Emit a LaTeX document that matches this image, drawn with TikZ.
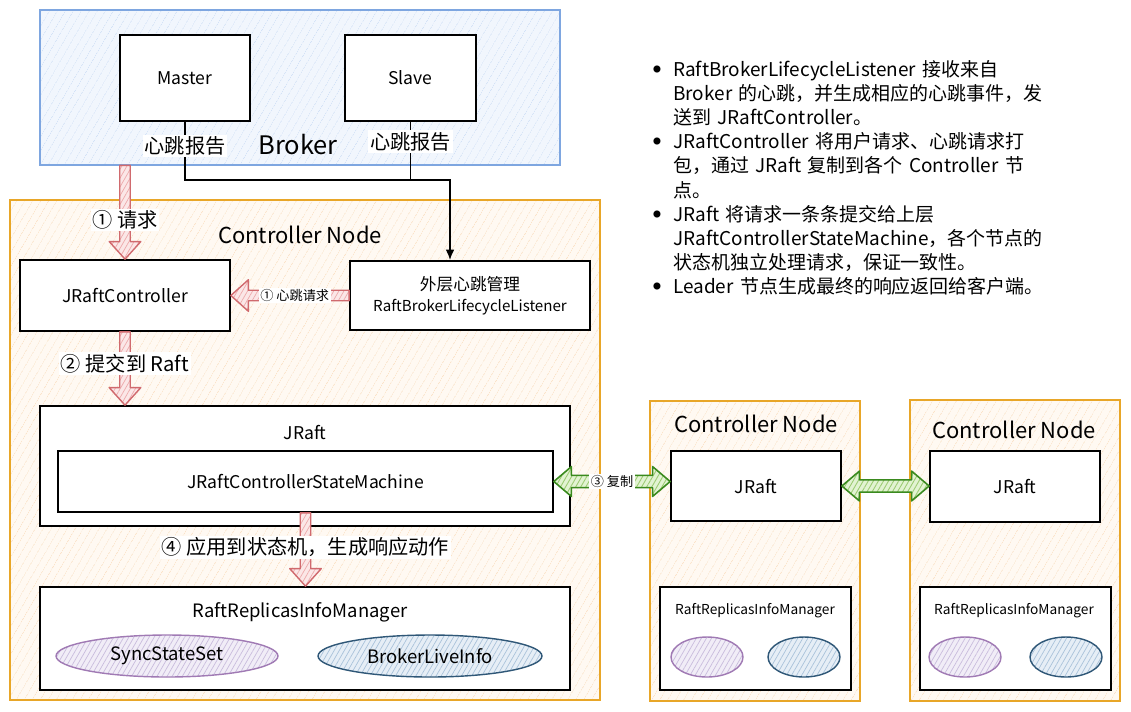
\documentclass[tikz,border=0pt]{standalone}
\usepackage{fontspec}
\setmainfont{Noto Sans CJK SC}
\usetikzlibrary{calc,patterns.meta,shapes.geometric,arrows.meta}

\definecolor{brokerline}{HTML}{7EA6E0}
\definecolor{brokerfill}{HTML}{F1F6FD}
\definecolor{brokerhatch}{HTML}{D3E2F7}
\definecolor{ctrlline}{HTML}{E8A628}
\definecolor{ctrlfill}{HTML}{FFF9F2}
\definecolor{ctrlhatch}{HTML}{FBE3C8}
\definecolor{redline}{HTML}{D06A6E}
\definecolor{redfill}{HTML}{FBE7E7}
\definecolor{redhatch}{HTML}{EDA9AB}
\definecolor{greenline}{HTML}{3A8A1E}
\definecolor{greenfill}{HTML}{E2F3D2}
\definecolor{greenhatch}{HTML}{9CCB72}
\definecolor{purpleline}{HTML}{A07AB4}
\definecolor{purplefill}{HTML}{F1EDF7}
\definecolor{purplehatch}{HTML}{C9BCDD}
\definecolor{navyline}{HTML}{2F5777}
\definecolor{navyfill}{HTML}{E6EEF6}
\definecolor{navyhatch}{HTML}{A9C2DA}

\tikzset{
  box/.style={draw=black, line width=1pt, fill=white, inner sep=2pt, font=\fontsize{10}{12}\selectfont},
  brokerbox/.style={draw=brokerline, line width=0.8pt, preaction={fill=brokerfill},
    pattern={Lines[angle=60,distance=4pt,line width=0.4pt]}, pattern color=brokerhatch},
  ctrlbox/.style={draw=ctrlline, line width=0.9pt, preaction={fill=ctrlfill},
    pattern={Lines[angle=60,distance=4pt,line width=0.4pt]}, pattern color=ctrlhatch},
  title/.style={font=\fontsize{12.5}{14}\selectfont},
  lbl/.style={fill=white, inner sep=1pt, font=\fontsize{11.5}{13}\selectfont},
  smalllbl/.style={fill=white, inner sep=1pt, font=\fontsize{7.5}{9}\selectfont},
  redarrow/.style={draw=redline, line width=0.8pt, line join=round, preaction={fill=redfill},
    pattern={Lines[angle=60,distance=2.5pt,line width=0.4pt]}, pattern color=redhatch},
  greenarrow/.style={draw=greenline, line width=0.9pt, line join=round, preaction={fill=greenfill},
    pattern={Lines[angle=60,distance=2.5pt,line width=0.5pt]}, pattern color=greenhatch},
  syncell/.style={ellipse, draw=purpleline, line width=0.8pt, inner sep=0pt, preaction={fill=purplefill},
    pattern={Lines[angle=60,distance=2.5pt,line width=0.4pt]}, pattern color=purplehatch},
  liveell/.style={ellipse, draw=navyline, line width=0.8pt, inner sep=0pt, preaction={fill=navyfill},
    pattern={Lines[angle=60,distance=2.5pt,line width=0.4pt]}, pattern color=navyhatch},
  conn/.style={draw=black, line width=1pt, -{Latex[length=6pt,width=5pt]}}
}

% hollow block arrow, one head / two heads
\def\fatarrow[#1](#2)(#3){%
  \coordinate (fa-s) at (#2);
  \coordinate (fa-e) at (#3);
  \coordinate (fa-h) at ($(fa-e)!10pt!(fa-s)$);
  \draw[#1] ($(fa-s)!3pt!90:(fa-e)$) -- ($(fa-h)!3pt!-90:(fa-s)$) -- ($(fa-h)!9pt!-90:(fa-s)$)
    -- (fa-e) -- ($(fa-h)!9pt!90:(fa-s)$) -- ($(fa-h)!3pt!90:(fa-s)$) -- ($(fa-s)!3pt!-90:(fa-e)$) -- cycle;}
\def\fatdarrow[#1](#2)(#3){%
  \coordinate (fa-s) at (#2);
  \coordinate (fa-e) at (#3);
  \coordinate (fa-hs) at ($(fa-s)!10pt!(fa-e)$);
  \coordinate (fa-he) at ($(fa-e)!10pt!(fa-s)$);
  \draw[#1] (fa-s) -- ($(fa-hs)!8.5pt!90:(fa-e)$) -- ($(fa-hs)!3.5pt!90:(fa-e)$)
    -- ($(fa-he)!3.5pt!-90:(fa-s)$) -- ($(fa-he)!8.5pt!-90:(fa-s)$) -- (fa-e)
    -- ($(fa-he)!8.5pt!90:(fa-s)$) -- ($(fa-he)!3.5pt!90:(fa-s)$)
    -- ($(fa-hs)!3.5pt!-90:(fa-e)$) -- ($(fa-hs)!8.5pt!-90:(fa-e)$) -- cycle;}
% bullet of the notes
\def\notedot{\leavevmode\llap{\raisebox{0.22em}{\fontsize{4.5}{5}\selectfont ●}\hspace{7pt}}}

\begin{document}
\begin{tikzpicture}[x=0.02cm, y=-0.02cm]
		%%%%% START %%%%%
		\useasboundingbox[fill=white] (0,0) rectangle (1131,711);
		
		% broker
		\node[brokerbox, minimum width=10.4cm, minimum height=3.1cm] (broker) at (300,87.5) {};
		\node[font=\fontsize{14.5}{16}\selectfont] (brokertitle) at (298,145) {Broker};
		\node[box, minimum width=2.6cm, minimum height=1.72cm] (master) at (185,78) {Master};
		\node[box, minimum width=2.62cm, minimum height=1.72cm] (slave) at (410.5,78) {Slave};
		
		% controller node (leader)
		\node[ctrlbox, minimum width=11.8cm, minimum height=10cm] (cn1) at (305,450) {};
		\node[title] (cn1title) at (300,235) {Controller Node};
		\node[box, minimum width=4.2cm, minimum height=1.42cm] (jctrl) at (125,295.5) {JRaftController};
		\node[box, minimum width=4.8cm, minimum height=1.38cm, align=center,
		  font=\fontsize{8.6}{12}\selectfont] (listener) at (470,295.5) {{\fontsize{9.5}{12}\selectfont 外层心跳管理}\\RaftBrokerLifecycleListener};
		\node[box, minimum width=10.6cm, minimum height=2.4cm] (jraft) at (305,466) {};
		\node[font=\fontsize{10}{12}\selectfont] (jraftlbl) at (305,432) {JRaft};
		\node[box, minimum width=9.9cm, minimum height=1.22cm] (sm) at (305.5,481.5) {JRaftControllerStateMachine};
		\node[box, minimum width=10.6cm, minimum height=2.06cm] (mgr) at (305,638.5) {};
		\node[font=\fontsize{10.5}{12}\selectfont] (mgrlbl) at (300,612) {RaftReplicasInfoManager};
		\node[syncell, minimum width=4.44cm, minimum height=0.84cm, font=\fontsize{10.5}{12}\selectfont] (sync) at (167,656) {SyncStateSet};
		\node[liveell, minimum width=4.48cm, minimum height=0.84cm, font=\fontsize{10.5}{12}\selectfont] (live) at (430,656) {BrokerLiveInfo};
		
		% controller node 2
		\node[ctrlbox, minimum width=4.2cm, minimum height=6cm] (cn2) at (755,551) {};
		\node[title] (cn2title) at (756,424) {Controller Node};
		\node[box, minimum width=3.4cm, minimum height=1.4cm] (jraft2) at (756,486) {JRaft};
		\node[box, minimum width=3.82cm, minimum height=2.06cm] (mgr2) at (755.5,638.5) {};
		\node[font=\fontsize{7.8}{9}\selectfont] (mgr2lbl) at (755,611) {RaftReplicasInfoManager};
		\node[syncell, minimum width=1.44cm, minimum height=0.8cm] (sync2) at (707,657) {};
		\node[liveell, minimum width=1.44cm, minimum height=0.8cm] (live2) at (804,657) {};
		
		% controller node 3
		\node[ctrlbox, minimum width=4.2cm, minimum height=6.02cm] (cn3) at (1015,550.5) {};
		\node[title] (cn3title) at (1014,430) {Controller Node};
		\node[box, minimum width=3.4cm, minimum height=1.42cm] (jraft3) at (1015,486.5) {JRaft};
		\node[box, minimum width=3.82cm, minimum height=2.06cm] (mgr3) at (1015.5,638.5) {};
		\node[font=\fontsize{7.8}{9}\selectfont] (mgr3lbl) at (1014,611) {RaftReplicasInfoManager};
		\node[syncell, minimum width=1.44cm, minimum height=0.8cm] (sync3) at (965,657) {};
		\node[liveell, minimum width=1.44cm, minimum height=0.8cm] (live3) at (1066,657) {};
		
		% heartbeat lines
		\coordinate (join) at (450,180);
		\draw[line width=1pt] (slave.south) |- node[pos=0.17, lbl] (hb2) {心跳报告} (join);
		\draw[conn] (master.south) |- node[pos=0.21, lbl] (hb1) {心跳报告} (join) -- (join |- listener.north);
		
		% block arrows
		\fatarrow[redarrow](jctrl.north |- broker.south)(jctrl.north)
		\node[lbl] (req) at ($(jctrl.north |- broker.south)!0.58!(jctrl.north)$) {① 请求};
		\fatarrow[redarrow](listener.west)(jctrl.east)
		\node[smalllbl] (hbreq) at ($(listener.west)!0.46!(jctrl.east)$) {① 心跳请求};
		\fatarrow[redarrow](jctrl.south)(jctrl.south |- jraft.north)
		\node[lbl] (commit) at ($(jctrl.south)!0.43!(jctrl.south |- jraft.north)$) {② 提交到 Raft};
		\fatarrow[redarrow](sm.south)(sm.south |- mgr.north)
		\node[lbl] (apply) at ($(sm.south)!0.47!(sm.south |- mgr.north)$) {④ 应用到状态机，生成响应动作};
		\fatdarrow[greenarrow](sm.east)(jraft2.west |- sm.east)
		\node[smalllbl] (repl) at ($(sm.east)!0.5!(jraft2.west |- sm.east)$) {③ 复制};
		\fatdarrow[greenarrow](jraft2.east)(jraft3.west |- jraft2.east)
		
		% notes
		\node[anchor=north west, inner sep=0pt, text width=8.4cm, font=\fontsize{10.8}{13.75}\selectfont] (notes) at (655,60) {%
		  \setlength{\parskip}{0pt}\setlength{\parindent}{0pt}\leftskip=10.2pt
		  \notedot RaftBrokerLifecycleListener 接收来自\\Broker 的心跳，并生成相应的心跳事件，发\\送到 JRaftController。\par
		  \notedot JRaftController 将用户请求、心跳请求打\\包，通过 JRaft 复制到各个 Controller 节\\点。\par
		  \notedot JRaft 将请求一条条提交给上层\\JRaftControllerStateMachine，各个节点的\\状态机独立处理请求，保证一致性。\par
		  \notedot Leader 节点生成最终的响应返回给客户端。\par};
		%%%%% END %%%%%
\end{tikzpicture}
\end{document}
